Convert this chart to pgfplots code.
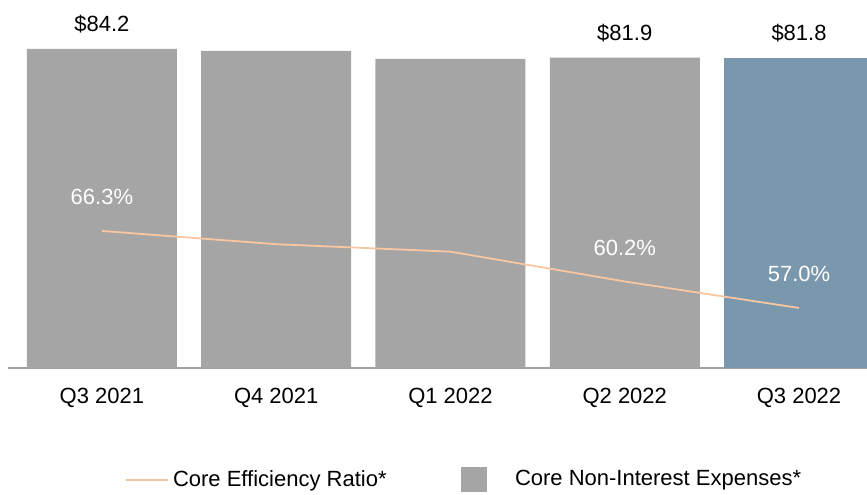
\documentclass[border=0pt]{standalone}
\usepackage{fontspec}
\setmainfont{Liberation Sans}
\usepackage{pgfplots}
\pgfplotsset{compat=1.18}
\definecolor{BarGray}{HTML}{A5A5A5}
\definecolor{BarBlue}{HTML}{7A98AD}
\definecolor{LineOrange}{HTML}{F8C6A0}
\definecolor{AxisGray}{HTML}{A0A0A0}

\begin{document}
\fontsize{11}{13}\selectfont
\begin{tikzpicture}
\path[use as bounding box] (0,0) rectangle (433.5pt,247pt);
\pgfplotsset{
  base/.style={
    at={(4pt,63pt)}, anchor=south west,
    scale only axis, width=429.5pt, height=184pt,
    xmin=-0.539, xmax=4.39,
  }
}
% bars: core non-interest expenses ($M)
\begin{axis}[base,
  ymin=0, ymax=97.13,
  ybar, bar width=75pt, bar shift=0pt,
  axis y line=none,
  axis x line*=bottom,
  axis line style={-, draw=AxisGray, line width=1pt},
  xtick={0,...,4},
  xticklabels={Q3 2021,Q4 2021,Q1 2022,Q2 2022,Q3 2022},
  major tick length=0pt,
  xticklabel style={anchor=center, yshift=-15pt},
  nodes near coords,
  point meta=explicit symbolic,
  every node near coord/.append style={anchor=center, yshift=12.5pt, text=black},
]
\addplot[draw=none, fill=BarGray] coordinates {(0,84.2) [\$84.2] (1,83.7) [] (2,81.6) [] (3,81.9) [\$81.9]};
\addplot[draw=none, fill=BarBlue] coordinates {(4,81.8) [\$81.8]};
\end{axis}
% line: core efficiency ratio (%)
\begin{axis}[base,
  ymin=49.75, ymax=94.19,
  hide axis,
  nodes near coords,
  point meta=explicit symbolic,
  every node near coord/.append style={anchor=center, yshift=17pt, text=white},
  legend columns=2,
  legend cell align=left,
  legend style={at={(0.136,-0.304)}, anchor=west, draw=none, fill=none, inner sep=0pt,
    /tikz/every even column/.append style={column sep=35pt}},
]
\addplot[LineOrange, line width=0.9pt, mark=none,
  legend image code/.code={\draw[LineOrange, line width=0.9pt] (0pt,0pt) -- (21pt,0pt);}]
  coordinates {(0,66.3) [66.3\%] (1,64.7) [] (2,63.8) [] (3,60.2) [60.2\%] (4,57.0) [57.0\%]};
\addlegendentry{Core Efficiency Ratio*}
\addlegendimage{legend image code/.code={\fill[BarGray] (0pt,-6pt) rectangle (12.5pt,6pt); \path[draw=none] (0pt,0pt) -- (25pt,0pt);}}
\addlegendentry{Core Non-Interest Expenses*}
\end{axis}
\end{tikzpicture}
\end{document}
